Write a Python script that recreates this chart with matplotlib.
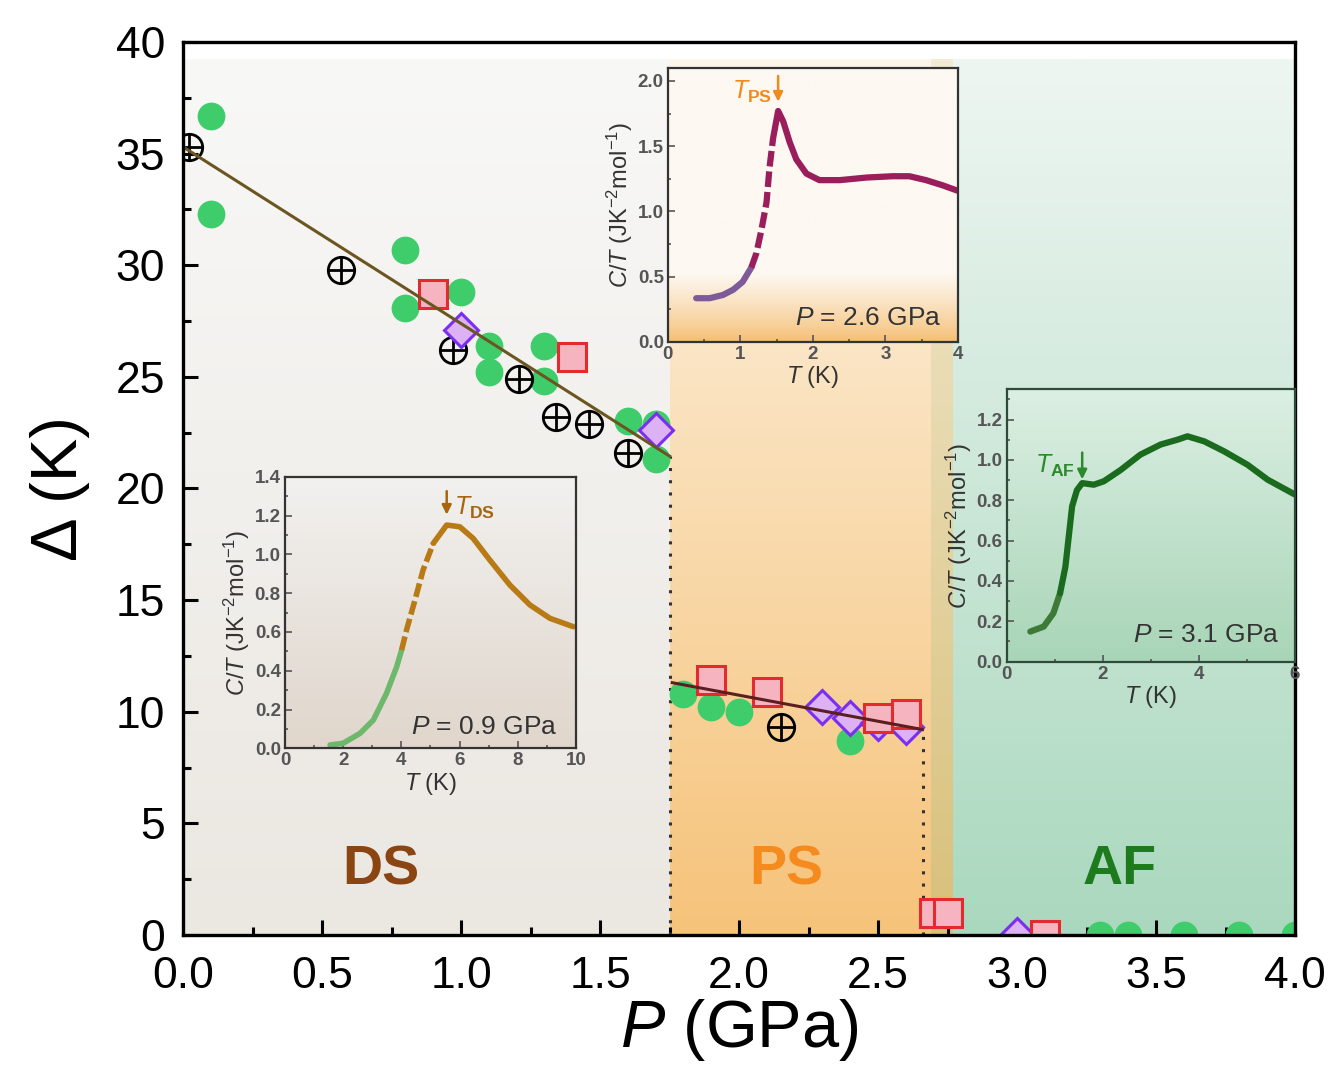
"""
Фазовая диаграмма: щель Δ от давления P и три вставки C/T(T).
"""

import matplotlib

matplotlib.use("Agg")

import matplotlib.pyplot as plt
import numpy as np
from matplotlib.colors import to_rgb
from matplotlib.ticker import MultipleLocator

plt.rcParams["font.family"] = ["Liberation Sans", "DejaVu Sans"]
plt.rcParams["mathtext.fontset"] = "custom"
plt.rcParams["mathtext.rm"] = "Liberation Sans"
plt.rcParams["mathtext.it"] = "Liberation Sans:italic"
plt.rcParams["mathtext.bf"] = "Liberation Sans:bold"

# ---- щель Δ(P), разные методы ----
circ_p = [0.10, 0.10, 0.80, 0.80, 1.00, 1.10, 1.10, 1.30, 1.30, 1.60, 1.70, 1.70,
          1.80, 1.90, 2.00, 2.40, 3.30, 3.40, 3.60, 3.80, 4.00]
circ_d = [36.7, 32.3, 30.7, 28.1, 28.8, 26.4, 25.2, 26.4, 24.8, 23.0, 22.9, 21.3,
          10.8, 10.2, 10.0, 8.7, 0.0, 0.0, 0.0, 0.0, 0.0]

cross_p = [0.02, 0.57, 0.97, 1.21, 1.34, 1.46, 1.60, 2.15]
cross_d = [35.3, 29.8, 26.2, 24.9, 23.2, 22.9, 21.6, 9.3]

sq_p = [0.90, 1.40, 1.90, 2.10, 2.50, 2.60, 2.70, 2.75, 3.10]
sq_d = [28.7, 25.9, 11.4, 10.9, 9.7, 9.9, 1.0, 1.0, 0.0]

dia_p = [1.00, 1.70, 2.30, 2.40, 2.50, 2.60, 3.00]
dia_d = [27.1, 22.6, 10.2, 9.7, 9.5, 9.3, 0.0]

ds_fit_p = [0.0, 1.75]
ds_fit_d = [35.3, 21.45]
ps_fit_p = [1.76, 2.66]
ps_fit_d = [11.3, 9.2]

# границы фаз
ds_edge = 1.75
ps_edge = 2.66
ps_range = (1.75, 2.69)
mix_range = (2.69, 2.77)
af_range = (2.77, 4.0)

# ---- C/T при 0.9 ГПа ----
ds_T = [1.55, 2.0, 2.58, 3.04, 3.49, 3.84, 4.01, 4.18, 4.47, 4.75, 5.10, 5.56,
        6.01, 6.47, 7.04, 7.73, 8.42, 9.11, 9.91]
ds_C = [0.017, 0.026, 0.077, 0.146, 0.283, 0.42, 0.507, 0.61, 0.765, 0.92, 1.057,
        1.151, 1.142, 1.082, 0.971, 0.842, 0.739, 0.67, 0.627]

# ---- C/T при 2.6 ГПа ----
ps_T = [0.39, 0.575, 0.76, 0.90, 1.03, 1.15, 1.22, 1.29, 1.36, 1.40, 1.45, 1.52,
        1.59, 1.68, 1.77, 1.91, 2.09, 2.37, 2.74, 3.10, 3.33, 3.56, 3.79, 3.99]
ps_C = [0.335, 0.335, 0.36, 0.40, 0.46, 0.57, 0.68, 0.86, 1.07, 1.33, 1.56, 1.77,
        1.69, 1.53, 1.40, 1.29, 1.24, 1.24, 1.26, 1.27, 1.27, 1.24, 1.20, 1.16]

# ---- C/T при 3.1 ГПа ----
af_T = [0.49, 0.77, 0.97, 1.11, 1.22, 1.29, 1.36, 1.46, 1.57, 1.81, 2.02, 2.37,
        2.78, 3.20, 3.55, 3.76, 4.11, 4.52, 5.01, 5.43, 6.0]
af_C = [0.149, 0.174, 0.24, 0.34, 0.47, 0.62, 0.77, 0.85, 0.885, 0.877, 0.894, 0.95,
        1.026, 1.076, 1.10, 1.117, 1.092, 1.043, 0.976, 0.902, 0.828]


def vgrad(ax, x0, x1, y0, y1, c_bottom, c_top, span=1.0, power=1.0, zorder=0):
    """Вертикальный градиент заливки прямоугольника в координатах данных."""
    t = np.linspace(0, 1, 256)
    w = np.clip(t / span, 0, 1) ** power
    cb = np.array(to_rgb(c_bottom))
    ct = np.array(to_rgb(c_top))
    img = (cb[None, :] * (1 - w[:, None]) + ct[None, :] * w[:, None])[:, None, :]
    ax.imshow(img, extent=(x0, x1, y0, y1), origin="lower", aspect="auto",
              interpolation="bilinear", zorder=zorder)


def style_inset(ax, fc_dark="#333333"):
    for s in ax.spines.values():
        s.set_linewidth(1.6)
        s.set_color(fc_dark)
    ax.tick_params(which="both", direction="in", top=False, right=False,
                   labelsize=13.5, colors="#555555", width=1.2, pad=3)
    ax.tick_params(which="major", length=5)
    ax.tick_params(which="minor", length=2.5)
    for lab in ax.get_xticklabels() + ax.get_yticklabels():
        lab.set_fontweight("bold")
    ax.set_xlabel("$T$ (K)", fontsize=17, color="#333333", labelpad=1)
    ax.set_ylabel("$C/T$ (JK$^{-2}$mol$^{-1}$)", fontsize=17, color="#333333",
                  labelpad=2)


def split(xs, ys, lo, hi):
    xs = np.asarray(xs)
    ys = np.asarray(ys)
    m = (xs >= lo) & (xs <= hi)
    return xs[m], ys[m]


fig = plt.figure(figsize=(13.34, 10.82), dpi=100)
ax = fig.add_axes([0.1372, 0.1359, 0.8336, 0.8253])

shade_top = 39.2
vgrad(ax, 0, ps_range[0], 0, shade_top, "#ebe7e1", "#f8f8f7")
vgrad(ax, ps_range[0], ps_range[1], 0, shade_top, "#f6c37a", "#fdf6ea")
vgrad(ax, mix_range[0], mix_range[1], 0, shade_top, "#d8c07a", "#f3ecd5")
vgrad(ax, af_range[0], af_range[1], 0, shade_top, "#aad8be", "#eef6f2")

ax.plot(circ_p, circ_d, "o", ms=20, color="#3fcd6c", mec="none", zorder=3)
ax.plot(cross_p, cross_d, "o", ms=19, mfc="none", mec="black", mew=2, zorder=4)
ax.plot(cross_p, cross_d, "+", ms=19, color="black", mew=2, zorder=4)
ax.plot(dia_p, dia_d, "D", ms=17, mfc="#dcb2f5", mec="#7a2ff0", mew=2.2, zorder=5)
ax.plot(sq_p, sq_d, "s", ms=20, mfc="#f5b4c0", mec="#e52a2f", mew=2.2, zorder=6)

ax.plot(ds_fit_p, ds_fit_d, color="#6b5520", lw=2.2, zorder=7)
ax.plot(ps_fit_p, ps_fit_d, color="#5b1f1f", lw=2.2, zorder=7)

ax.plot([ds_edge, ds_edge], [0, ds_fit_d[-1]], color="#333333", lw=2.2,
        ls=(0, (1, 3)), zorder=2)
ax.plot([ps_edge, ps_edge], [0, ps_fit_d[-1]], color="#333333", lw=2.2,
        ls=(0, (1, 3)), zorder=2)

ax.text(0.71, 2.9, "DS", fontsize=40, fontweight="bold", color="#8b4513",
        ha="center", va="center", zorder=8)
ax.text(2.17, 2.9, "PS", fontsize=40, fontweight="bold", color="#f58a1f",
        ha="center", va="center", zorder=8)
ax.text(3.37, 2.9, "AF", fontsize=40, fontweight="bold", color="#1d7a1d",
        ha="center", va="center", zorder=8)

ax.set_xlim(0, 4)
ax.set_ylim(0, 40)
ax.xaxis.set_major_locator(MultipleLocator(0.5))
ax.xaxis.set_minor_locator(MultipleLocator(0.25))
ax.yaxis.set_major_locator(MultipleLocator(5))
ax.yaxis.set_minor_locator(MultipleLocator(2.5))
ax.xaxis.set_major_formatter(lambda v, pos: f"{v:.1f}")
ax.yaxis.set_major_formatter(lambda v, pos: f"{v:.0f}")
for s in ax.spines.values():
    s.set_linewidth(2.4)
    s.set_zorder(10)
ax.tick_params(which="both", direction="in", top=False, right=False, width=2.2,
               labelsize=32)
ax.tick_params(which="major", length=11)
ax.tick_params(which="minor", length=5.5)
ax.tick_params(axis="x", pad=15)
ax.tick_params(axis="y", pad=13)
ax.set_xlabel("$P$ (GPa)", fontsize=48, labelpad=0)
ax.set_ylabel("Δ (K)", fontsize=47, labelpad=18)

# ---- вставка DS ----
ax_ds = fig.add_axes([0.2136, 0.3084, 0.2181, 0.2510])
vgrad(ax_ds, 0, 10, 0, 1.4, "#e0d6cc", "#f2f1ef")
t1, c1 = split(ds_T, ds_C, 0, 4.01)
t2, c2 = split(ds_T, ds_C, 4.01, 5.10)
t3, c3 = split(ds_T, ds_C, 5.10, 10)
ax_ds.plot(t1, c1, color="#6db86b", lw=4, solid_capstyle="round")
ax_ds.plot(t2, c2, color="#b87a15", lw=4, ls=(0, (2.5, 0.8)))
ax_ds.plot(t3, c3, color="#b87a15", lw=4, solid_capstyle="round")
ax_ds.annotate("", xy=(5.56, 1.19), xytext=(5.56, 1.34),
               arrowprops=dict(arrowstyle="-|>", color="#a8650f", lw=1.8,
                               mutation_scale=14))
ax_ds.text(5.8, 1.24, "$T_{\\mathbf{DS}}$", fontsize=18, color="#a8650f",
           ha="left", va="center", fontweight="bold")
ax_ds.text(9.35, 0.11, "$P$ = 0.9 GPa", fontsize=19, color="#333333",
           ha="right", va="center")
ax_ds.set_xlim(0, 10)
ax_ds.set_ylim(0, 1.4)
ax_ds.xaxis.set_major_locator(MultipleLocator(2))
ax_ds.xaxis.set_minor_locator(MultipleLocator(1))
ax_ds.yaxis.set_major_locator(MultipleLocator(0.2))
ax_ds.yaxis.set_minor_locator(MultipleLocator(0.1))
ax_ds.yaxis.set_major_formatter(lambda v, pos: f"{v:.1f}")
style_inset(ax_ds)

# ---- вставка PS ----
ax_ps = fig.add_axes([0.5007, 0.6840, 0.2174, 0.2532])
vgrad(ax_ps, 0, 4, 0, 2.1, "#f5bd70", "#fdf8f1", span=0.25, power=0.8)
t1, c1 = split(ps_T, ps_C, 0, 1.15)
t2, c2 = split(ps_T, ps_C, 1.15, 1.45)
t3, c3 = split(ps_T, ps_C, 1.45, 4)
ax_ps.plot(t1, c1, color="#7e5a98", lw=4.5, solid_capstyle="round")
ax_ps.plot(t2, c2, color="#9a1d5c", lw=4.5, ls=(0, (2.5, 0.8)))
ax_ps.plot(t3, c3, color="#9a1d5c", lw=4.5, solid_capstyle="round")
ax_ps.annotate("", xy=(1.52, 1.82), xytext=(1.52, 2.06),
               arrowprops=dict(arrowstyle="-|>", color="#f08a1c", lw=1.8,
                               mutation_scale=14))
ax_ps.text(1.43, 1.92, "$T_{\\mathbf{PS}}$", fontsize=18, color="#f08a1c",
           ha="right", va="center")
ax_ps.text(3.77, 0.18, "$P$ = 2.6 GPa", fontsize=19, color="#333333",
           ha="right", va="center")
ax_ps.set_xlim(0, 4)
ax_ps.set_ylim(0, 2.1)
ax_ps.xaxis.set_major_locator(MultipleLocator(1))
ax_ps.xaxis.set_minor_locator(MultipleLocator(0.5))
ax_ps.yaxis.set_major_locator(MultipleLocator(0.5))
ax_ps.yaxis.set_minor_locator(MultipleLocator(0.25))
ax_ps.yaxis.set_major_formatter(lambda v, pos: f"{v:.1f}")
style_inset(ax_ps)

# ---- вставка AF ----
ax_af = fig.add_axes([0.7547, 0.3885, 0.2161, 0.2517])
vgrad(ax_af, 0, 6, 0, 1.35, "#a8d5b7", "#dcefe3")
t1, c1 = split(af_T, af_C, 0, 1.11)
t2, c2 = split(af_T, af_C, 1.11, 6)
ax_af.plot(t1, c1, color="#3d7a38", lw=4.5, solid_capstyle="round")
ax_af.plot(t2, c2, color="#1b6b1f", lw=4.5, solid_capstyle="round")
ax_af.annotate("", xy=(1.57, 0.89), xytext=(1.57, 1.05),
               arrowprops=dict(arrowstyle="-|>", color="#2b8a2b", lw=1.8,
                               mutation_scale=14))
ax_af.text(1.42, 0.97, "$T_{\\mathbf{AF}}$", fontsize=18, color="#2b8a2b",
           ha="right", va="center")
ax_af.text(5.67, 0.13, "$P$ = 3.1 GPa", fontsize=19, color="#333333",
           ha="right", va="center")
ax_af.set_xlim(0, 6)
ax_af.set_ylim(0, 1.35)
ax_af.xaxis.set_major_locator(MultipleLocator(2))
ax_af.xaxis.set_minor_locator(MultipleLocator(1))
ax_af.yaxis.set_major_locator(MultipleLocator(0.2))
ax_af.yaxis.set_minor_locator(MultipleLocator(0.1))
ax_af.yaxis.set_major_formatter(lambda v, pos: f"{v:.1f}")
style_inset(ax_af, fc_dark="#2f4a38")

fig.savefig("out.png", dpi=100)
